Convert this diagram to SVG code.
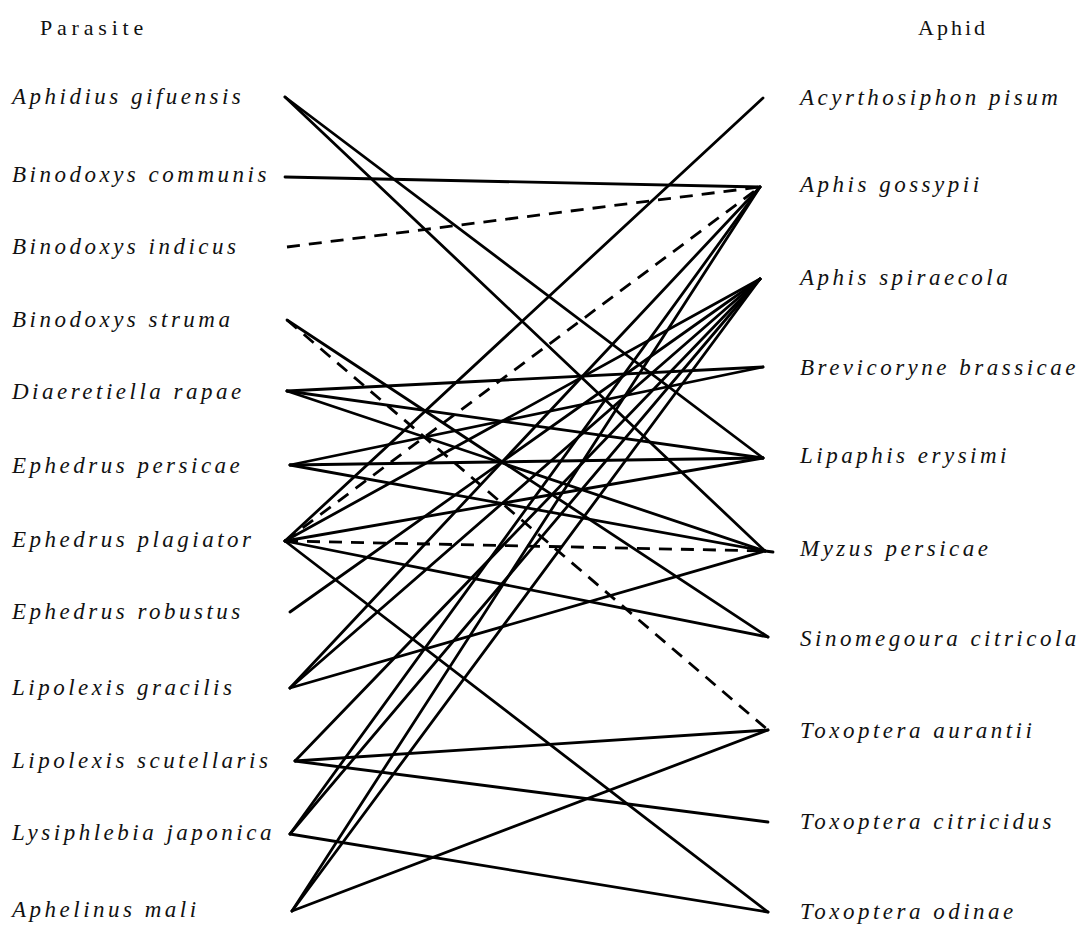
<svg xmlns="http://www.w3.org/2000/svg" width="1088" height="925" viewBox="0 0 1088 925">
<style>
.bg{fill:#ffffff}
.hdr{font-family:"Liberation Serif","Times New Roman",serif;font-size:22px;fill:#111}
.lbl{font-family:"Liberation Serif","Times New Roman",serif;font-size:23px;font-style:italic;fill:#111;letter-spacing:3.5px}
.e{stroke:#000;stroke-width:2.8;fill:none;stroke-linecap:round}
.d{stroke:#000;stroke-width:2.8;fill:none;stroke-dasharray:13 9}
</style>
<rect class="bg" x="0" y="0" width="1088" height="925"/>
<text class="hdr" x="40" y="35" letter-spacing="4.8">Parasite</text>
<text class="hdr" x="918" y="35" letter-spacing="3">Aphid</text>

<g id="connectors">
<line class="e" x1="285" y1="97" x2="763" y2="458"/>
<line class="e" x1="285" y1="97" x2="765" y2="551"/>
<line class="e" x1="285" y1="177" x2="760" y2="187"/>
<line class="d" x1="287" y1="247" x2="760" y2="187"/>
<line class="e" x1="287" y1="320" x2="768" y2="637"/>
<line class="d" x1="287" y1="320" x2="768" y2="730"/>
<line class="e" x1="287" y1="391" x2="763" y2="367"/>
<line class="e" x1="287" y1="391" x2="763" y2="458"/>
<line class="e" x1="287" y1="391" x2="765" y2="551"/>
<line class="e" x1="290" y1="465" x2="763" y2="367"/>
<line class="e" x1="290" y1="465" x2="763" y2="458"/>
<line class="e" x1="290" y1="465" x2="765" y2="551"/>
<line class="e" x1="285" y1="541" x2="763" y2="98"/>
<line class="d" x1="285" y1="541" x2="760" y2="187"/>
<line class="e" x1="285" y1="541" x2="760" y2="279"/>
<line class="e" x1="285" y1="541" x2="763" y2="458"/>
<line class="d" x1="285" y1="541" x2="765" y2="551"/>
<line class="e" x1="285" y1="541" x2="768" y2="637"/>
<line class="e" x1="285" y1="541" x2="768" y2="912"/>
<line class="e" x1="290" y1="612" x2="760" y2="279"/>
<line class="e" x1="290" y1="688" x2="760" y2="187"/>
<line class="e" x1="290" y1="688" x2="760" y2="279"/>
<line class="e" x1="290" y1="688" x2="765" y2="551"/>
<line class="e" x1="295" y1="761" x2="760" y2="279"/>
<line class="e" x1="295" y1="761" x2="768" y2="730"/>
<line class="e" x1="295" y1="761" x2="768" y2="822"/>
<line class="e" x1="290" y1="834" x2="760" y2="187"/>
<line class="e" x1="290" y1="834" x2="760" y2="279"/>
<line class="e" x1="290" y1="834" x2="768" y2="912"/>
<line class="e" x1="292" y1="911" x2="760" y2="187"/>
<line class="e" x1="292" y1="911" x2="760" y2="279"/>
<line class="e" x1="292" y1="911" x2="768" y2="730"/>
<line class="e" x1="765" y1="551" x2="773" y2="552"/>
</g>

<g id="p-aphidius-gifuensis"><text class="lbl" x="12" y="104">Aphidius gifuensis</text></g>
<g id="p-binodoxys-communis"><text class="lbl" x="12" y="182">Binodoxys communis</text></g>
<g id="p-binodoxys-indicus"><text class="lbl" x="12" y="254">Binodoxys indicus</text></g>
<g id="p-binodoxys-struma"><text class="lbl" x="12" y="327">Binodoxys struma</text></g>
<g id="p-diaeretiella-rapae"><text class="lbl" x="12" y="399">Diaeretiella rapae</text></g>
<g id="p-ephedrus-persicae"><text class="lbl" x="12" y="473">Ephedrus persicae</text></g>
<g id="p-ephedrus-plagiator"><text class="lbl" x="12" y="547">Ephedrus plagiator</text></g>
<g id="p-ephedrus-robustus"><text class="lbl" x="12" y="619">Ephedrus robustus</text></g>
<g id="p-lipolexis-gracilis"><text class="lbl" x="12" y="695">Lipolexis gracilis</text></g>
<g id="p-lipolexis-scutellaris"><text class="lbl" x="12" y="768">Lipolexis scutellaris</text></g>
<g id="p-lysiphlebia-japonica"><text class="lbl" x="12" y="840">Lysiphlebia japonica</text></g>
<g id="p-aphelinus-mali"><text class="lbl" x="12" y="917">Aphelinus mali</text></g>

<g id="a-acyrthosiphon-pisum"><text class="lbl" x="800" y="105">Acyrthosiphon pisum</text></g>
<g id="a-aphis-gossypii"><text class="lbl" x="800" y="192">Aphis gossypii</text></g>
<g id="a-aphis-spiraecola"><text class="lbl" x="800" y="285">Aphis spiraecola</text></g>
<g id="a-brevicoryne-brassicae"><text class="lbl" x="800" y="375">Brevicoryne brassicae</text></g>
<g id="a-lipaphis-erysimi"><text class="lbl" x="800" y="463">Lipaphis erysimi</text></g>
<g id="a-myzus-persicae"><text class="lbl" x="800" y="556">Myzus persicae</text></g>
<g id="a-sinomegoura-citricola"><text class="lbl" x="800" y="646">Sinomegoura citricola</text></g>
<g id="a-toxoptera-aurantii"><text class="lbl" x="800" y="738">Toxoptera aurantii</text></g>
<g id="a-toxoptera-citricidus"><text class="lbl" x="800" y="829">Toxoptera citricidus</text></g>
<g id="a-toxoptera-odinae"><text class="lbl" x="800" y="919">Toxoptera odinae</text></g>
</svg>
